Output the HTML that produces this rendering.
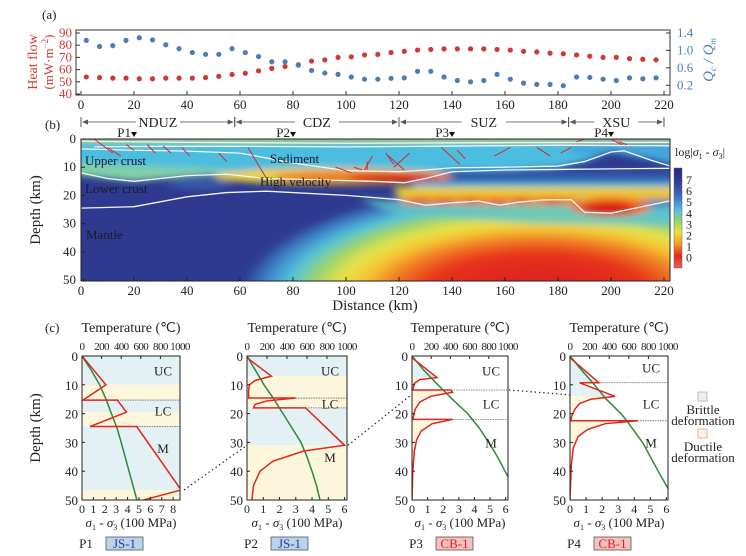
<!DOCTYPE html>
<html><head><meta charset="utf-8"><style>
body{margin:0;background:#fff}
svg{display:block;font-family:"Liberation Serif",serif}
</style></head><body>
<svg id="fig" width="746" height="556" viewBox="0 0 746 556" xmlns="http://www.w3.org/2000/svg" font-family="Liberation Serif, serif">
<defs>
<filter id="blur" x="-20%" y="-50%" width="140%" height="200%"><feGaussianBlur stdDeviation="1.6 1.2"/></filter>
<radialGradient id="hot" cx="0.5" cy="0.5" r="0.5">
<stop offset="0" stop-color="#d81c1c"/><stop offset="0.38" stop-color="#e6321c"/><stop offset="0.5" stop-color="#f07a22"/>
<stop offset="0.6" stop-color="#f5c634"/><stop offset="0.68" stop-color="#e4e44a"/><stop offset="0.76" stop-color="#9fd36a"/>
<stop offset="0.84" stop-color="#56c6d6"/><stop offset="0.92" stop-color="#3d86cc"/><stop offset="1" stop-color="#2e3a8f"/>
</radialGradient>
<linearGradient id="cbar" x1="0" y1="0" x2="0" y2="1">
<stop offset="0" stop-color="#28287e"/><stop offset="0.14" stop-color="#2f3c99"/><stop offset="0.28" stop-color="#3b6cc4"/>
<stop offset="0.42" stop-color="#58bce0"/><stop offset="0.52" stop-color="#8ed27a"/><stop offset="0.64" stop-color="#ece23c"/>
<stop offset="0.76" stop-color="#f39a22"/><stop offset="0.88" stop-color="#e2261c"/><stop offset="1" stop-color="#e86060"/>
</linearGradient>
<clipPath id="bclip"><rect x="81" y="139" width="589" height="142"/></clipPath>
</defs>
<g id="pa"></g>
<g id="pb"></g>
<g id="pc"></g>
</svg>
<script>
// ---------- Panel (a) data ----------
const distA=[2,7,12,17,22,27,32,37,42,47,52,57,62,67,72,77,82,87,92,97,102,107,112,117,122,127,132,137,142,147,152,157,162,167,172,177,182,187,192,197,202,207,212,217];
const heatFlow=[54,53.5,53,53,52.5,52.5,53,53,53,53.5,54.5,56,57,59,61,62.5,64,67,68,70,70.5,72,72.5,74,75,76,76.5,77,77,77,77,76.5,76,75,74.5,73.5,73,72,71,70,70,69,68.5,68];
const qRatio=[1.23,1.09,1.11,1.23,1.29,1.24,1.13,1.04,0.95,0.91,0.91,1.04,0.95,0.86,0.74,0.74,0.66,0.54,0.48,0.45,0.39,0.34,0.34,0.36,0.37,0.52,0.52,0.39,0.31,0.28,0.31,0.45,0.34,0.25,0.22,0.22,0.19,0.39,0.38,0.34,0.31,0.37,0.35,0.37];
const distTicks=[0,20,40,60,80,100,120,140,160,180,200,220];
const hfTicks=[40,50,60,70,80,90];
const qTicks=[0.2,0.6,1.0,1.4];
// ---------- Panel (b) data ----------
const zoneNames=["NDUZ","CDZ","SUZ","XSU"];
const zoneBounds=[0,58,120,184,220];
const profileNames=["P1","P2","P3","P4"];
const profileKm=[20,80,140,200];
const depthTicks=[0,10,20,30,40,50];
const cbarTicks=[7,6,5,4,3,2,1,0];
// ---------- Panel (c) data ----------
const p1Stress=[[0,0],[2.1,10],[0.1,15.3],[3.1,15.3],[3.9,19.5],[0.7,24.5],[4.8,24.5],[8.7,46.5],[5.4,50]];
const p2Stress=[[0,0.6],[1.5,7],[0.5,8.5],[0.15,10],[0.1,12],[0.1,14.6],[3.0,14.6],[1.2,15.6],[0.5,16.8],[0.4,18],[3.6,18],[6.0,31],[3.5,33],[1.6,36.5],[0.8,40],[0.4,45],[0.3,50]];
const p3Stress=[[0,0.6],[1.6,7.5],[0.5,8.2],[0.15,9.5],[0.05,11.8],[2.5,11.8],[2.6,12.6],[1.2,14],[0.5,16],[0.2,18.5],[0.05,22],[2.6,22],[1.3,23.5],[0.6,26],[0.3,29],[0.15,33],[0.05,40],[0,50]];
const p4Stress=[[0,0.6],[1.8,9.3],[0.6,9.3],[2.8,14],[1.3,15],[0.6,16.5],[0.3,18.5],[0.1,21],[0.05,22.5],[4.2,22.5],[2.2,23.5],[1.1,25.5],[0.5,28],[0.2,32],[0.08,38],[0,50]];
const p1Temp=[[0,0],[5,95],[10,180],[15,245],[20,300],[25,357],[30,400],[40,480],[50,560]];
const p2Temp=[[0,0],[5,85],[10,170],[15,270],[20,360],[25,450],[30,540],[35,600],[40,650],[45,695],[50,730]];
const p3Temp=[[0,0],[5,125],[10,270],[15,420],[20,580],[25,700],[30,800],[35,890],[42,1000]];
const p4Temp=[[0,0],[5,120],[10,250],[15,370],[20,520],[22.5,580],[30,740],[40,900],[46,1000]];
const p1Bands=[[0,10,"b"],[10,15.3,"y"],[15.3,19.5,"b"],[19.5,24.5,"y"],[24.5,46.5,"b"],[46.5,50,"y"]];
const p2Bands=[[0,7,"b"],[7,18,"y"],[18,31,"b"],[31,50,"y"]];
const p3Bands=[[0,7.5,"b"],[7.5,50,"y"]];
const p4Bands=[[0,14,"b"],[14,50,"y"]];
const p1Dash=[15.3,24.5];const p2Dash=[14.6,18];const p3Dash=[11.8,22];const p4Dash=[9.3,22.5];
const stressTicks6=[0,1,2,3,4,5,6];const stressTicks8=[0,1,2,3,4,5,6,7,8];
const tempTicks=[0,200,400,600,800,1000];

const NS="http://www.w3.org/2000/svg";
function mk(parent,tag,attrs,text){const e=document.createElementNS(NS,tag);for(const k in attrs)e.setAttribute(k,attrs[k]);if(text!==undefined)e.textContent=text;parent.appendChild(e);return e;}

// ===== Panel (a) =====
const pa=document.getElementById('pa');
const XA=km=>81+km*2.65;
const YH=h=>94-(h-40)*1.22;
const YQ=q=>94-q*43.6;
let t=mk(pa,'text',{x:42,y:19,'font-size':13,fill:'#222'},'(a)');

let r=mk(pa,'rect',{x:76,y:30,width:594,height:65,fill:'none',stroke:'#333','stroke-width':1});

distTicks.forEach(v=>{
  mk(pa,'line',{x1:XA(v),x2:XA(v),y1:95,y2:91,stroke:'#333'});
  const l=mk(pa,'text',{x:XA(v),y:109,'font-size':13,'text-anchor':'middle',fill:'#222'},v);
  
});
hfTicks.forEach(v=>{
  mk(pa,'line',{x1:76,x2:80,y1:YH(v),y2:YH(v),stroke:'#333'});
  const l=mk(pa,'text',{x:72,y:YH(v)+4,'font-size':13,'text-anchor':'end',fill:'#d0392f'},v);
  
});
qTicks.forEach(v=>{
  mk(pa,'line',{x1:670,x2:666,y1:YQ(v),y2:YQ(v),stroke:'#333'});
  const l=mk(pa,'text',{x:677,y:YQ(v)+4,'font-size':13,fill:'#4a7fb5'},v.toFixed(1));
  
});
t=mk(pa,'text',{transform:'translate(37,62) rotate(-90)','font-size':14,'text-anchor':'middle',fill:'#d0392f'},'Heat flow');

t=mk(pa,'text',{transform:'translate(53,62) rotate(-90)','font-size':13,'text-anchor':'middle',fill:'#d0392f'});
t.innerHTML='(mW·m<tspan dy="-5" font-size="9">−2</tspan><tspan dy="5">)</tspan>';

t=mk(pa,'text',{transform:'translate(713,60) rotate(-90)','font-size':15,'text-anchor':'middle',fill:'#4a7fb5','font-style':'italic'});
t.innerHTML='Q<tspan dy="3" font-size="9">c</tspan><tspan dy="-3"> / Q</tspan><tspan dy="3" font-size="9">m</tspan>';

distA.forEach((d,i)=>{
  const c=mk(pa,'circle',{cx:XA(d),cy:YH(heatFlow[i]),r:2.6,fill:'#d0392f'});
  
  const c2=mk(pa,'circle',{cx:XA(d),cy:YQ(qRatio[i]),r:2.6,fill:'#4a7fb5'});
  
});

// ===== Panel (b) =====
const pb=document.getElementById('pb');
const XB=km=>81+km*2.65;
const YB=d=>139+d*2.82;
t=mk(pb,'text',{x:45,y:129,'font-size':13,fill:'#222'},'(b)');

for(let i=0;i<zoneNames.length;i++){
  const a=XB(zoneBounds[i]),b=XB(zoneBounds[i+1]),m=(a+b)/2;
  mk(pb,'line',{x1:a+2,x2:b-2,y1:122,y2:122,stroke:'#777','stroke-width':1});
  mk(pb,'line',{x1:a,x2:a,y1:117,y2:127,stroke:'#555'});
  mk(pb,'line',{x1:b,x2:b,y1:117,y2:127,stroke:'#555'});
  mk(pb,'path',{d:`M${a+1},122 l6,-2.5 v5z`,fill:'#555'});
  mk(pb,'path',{d:`M${b-1},122 l-6,-2.5 v5z`,fill:'#555'});
  mk(pb,'rect',{x:m-22,y:115,width:44,height:14,fill:'#fff'});
  const z=mk(pb,'text',{x:m,y:127,'font-size':14,'text-anchor':'middle',fill:'#222'},zoneNames[i]);
  
}
profileKm.forEach((k,i)=>{
  const p=mk(pb,'text',{x:XB(k)-3,y:137,'font-size':13,'text-anchor':'end',fill:'#222'},profileNames[i]);
  
  const tr=mk(pb,'path',{d:`M${XB(k)-3},132 h6 l-3,5z`,fill:'#111'});
  
});
const hm=mk(pb,'g',{'clip-path':'url(#bclip)'});

const hg=mk(hm,'g',{transform:'translate(81,139) scale(2.65,2.82)'});
mk(hg,'rect',{x:-5,y:-5,width:235,height:60,fill:'#2e3a8f'});
const blurG=mk(hg,'g',{filter:'url(#blur)'});
mk(blurG,'ellipse',{cx:172,cy:56,rx:112,ry:40,fill:'url(#hot)'});
mk(blurG,'path',{d:'M105,21 L135,23 L160,24 L185,24 L200,27 L225,23 L225,31 L170,30 L120,27 Z',fill:'#5fc4c8',opacity:0.8});
mk(blurG,'path',{d:'M-5,0 L230,0 L230,10 L200,4.5 L190,8 L180,10 L160,11 L140,11.5 L130,14 L110,15 L90,14.5 L70,14 L55,12.5 L40,13 L20,15 L10,14 L-5,12 Z',fill:'#4cbde0'});
mk(blurG,'path',{d:'M-5,8 L20,9.5 L40,10 L55,11 L55,12.5 L40,13.5 L20,15 L10,14 L-5,12.5Z',fill:'#8fd49a',opacity:0.8});
mk(blurG,'path',{d:'M185,0 L230,0 L230,9 L215,7 L205,4 L195,6 L185,5Z',fill:'#3e9ad8',opacity:0.7});
mk(blurG,'rect',{x:-5,y:-1,width:235,height:2,fill:'#c0da48'});
mk(blurG,'rect',{x:135,y:11,width:95,height:4,fill:'#3252a8'});
mk(blurG,'rect',{x:125,y:15,width:105,height:2.5,fill:'#46a6d8'});
mk(blurG,'path',{d:'M118,17 L230,17 L230,21.5 L120,21.5 Z',fill:'#e6d640'});
mk(blurG,'rect',{x:120,y:19,width:110,height:2,fill:'#f2b432'});
mk(blurG,'rect',{x:122,y:21,width:65,height:2.3,fill:'#ef7a22'});
[[128,22],[137,22.3],[147,22],[157,22.6],[166,22],[178,22.3]].forEach(s=>mk(blurG,'ellipse',{cx:s[0],cy:s[1],rx:3,ry:0.9,fill:'#dc2a1c'}));
mk(blurG,'ellipse',{cx:200,cy:24,rx:15,ry:3.2,fill:'#ef6a22'});
mk(blurG,'ellipse',{cx:199,cy:24.8,rx:10,ry:2.2,fill:'#d41818'});
// red band at 11-15
mk(blurG,'ellipse',{cx:95,cy:13.2,rx:45,ry:2.9,fill:'#eed23a'});
mk(blurG,'ellipse',{cx:106,cy:13.4,rx:34,ry:2.1,fill:'#f07a20'});
mk(blurG,'ellipse',{cx:118,cy:13.7,rx:17,ry:1.7,fill:'#dc2418'});
mk(blurG,'ellipse',{cx:45,cy:16,rx:12,ry:2,fill:'#3c64b4',opacity:0.7});
const wl=(pts)=>{const pl=mk(hg,'polyline',{points:pts.map(p=>p.join(',')).join(' '),fill:'none',stroke:'#f4f4f4','stroke-width':1.3,'vector-effect':'non-scaling-stroke'});};
wl([[0,0.8],[40,1.2],[100,1.5],[160,1.3],[222,1.2]]);
wl([[5,2.8],[30,2.6],[60,2.6],[100,2.8],[140,2.5],[180,2.2],[222,2.4]]);
wl([[0,3.5],[20,4],[40,4.3],[60,5],[80,8.5],[100,11.2],[120,11.6],[130,11],[140,10.2],[160,10],[180,9.6],[190,8],[200,4.6],[205,4.2],[215,7.5],[222,9.5]]);
wl([[0,12],[10,14],[20,15],[40,13],[55,12.5],[70,14],[90,14.5],[110,15],[122,15.5],[130,14],[140,11.6],[160,11],[180,10.8],[200,10.6],[222,10.4]]);
wl([[0,24.5],[20,24],[40,20.5],[55,19],[70,18.5],[100,20],[120,21.5],[130,23.5],[140,22.6],[150,22],[158,23.5],[165,22.4],[175,21.6],[185,21.5],[190,26],[200,26.3],[222,22]]);
const faults=[[5,0,12,5],[10,3,15,6],[17,2,20,4],[25,2,28,5],[31,2.5,34,5],[38,3,41,6],[52,5,55,8],[63,3,70,14],[96,10,102,12],[103,10,106,11],[108,8,108,11],[110,6,107,11],[115,5,118,9],[116,6,122,11],[124,5,118,10],[136,3,143,9],[142,4,145,7],[156,6,162,3],[172,3,177,6],[181,5,185,3],[187,1,190,0],[200,0,204,2],[203,1,206,2]];
faults.forEach(f=>{const l=mk(hg,'line',{x1:f[0],y1:f[1],x2:f[2],y2:f[3],stroke:'#d42a2a','stroke-width':1,'vector-effect':'non-scaling-stroke'});});
[["Upper crust",85,165],["Sediment",270,163],["High velocity",260,186],["Lower crust",85,193],["Mantle",86,239]].forEach(a=>{
  const l=mk(pb,'text',{x:a[1],y:a[2],'font-size':13,fill:'#1a1a2a'},a[0]);
  
});
mk(pb,'rect',{x:81,y:139,width:589,height:142,fill:'none',stroke:'#222','stroke-width':1});
distTicks.forEach(v=>{
  mk(pb,'line',{x1:XB(v),x2:XB(v),y1:281,y2:277,stroke:'#222'});
  const l=mk(pb,'text',{x:XB(v),y:295,'font-size':13,'text-anchor':'middle',fill:'#222'},v);
  
});
depthTicks.forEach(v=>{
  mk(pb,'line',{x1:81,x2:85,y1:YB(v),y2:YB(v),stroke:'#222'});
  const l=mk(pb,'text',{x:76,y:YB(v)+4,'font-size':13,'text-anchor':'end',fill:'#222'},v);
  
});
t=mk(pb,'text',{x:375,y:310,'font-size':15,'text-anchor':'middle',fill:'#222'},'Distance (km)');

t=mk(pb,'text',{transform:'translate(40,210) rotate(-90)','font-size':15,'text-anchor':'middle',fill:'#222'},'Depth (km)');

r=mk(pb,'rect',{x:674,y:168,width:8,height:100,fill:'url(#cbar)',stroke:'#666','stroke-width':0.5});

cbarTicks.forEach((v,i)=>{
  const y=180+i*11.1;
  const l=mk(pb,'text',{x:686,y:y+4,'font-size':12,fill:'#222'},v);
  
});
t=mk(pb,'text',{x:675,y:156,'font-size':12,fill:'#222'});
t.innerHTML='log|<tspan font-style="italic">σ</tspan><tspan dy="3" font-size="8">1</tspan><tspan dy="-3"> - </tspan><tspan font-style="italic">σ</tspan><tspan dy="3" font-size="8">3</tspan><tspan dy="-3">|</tspan>';


// ===== Panel (c) =====
const pc=document.getElementById('pc');
t=mk(pc,'text',{x:45,y:332,'font-size':13,fill:'#222'},'(c)');

const Y0=356,Y1=500;
const YC=d=>Y0+d*(Y1-Y0)/50;
const subs=[
 {x0:82,x1:180,smax:8.6,stress:p1Stress,temp:p1Temp,bands:p1Bands,dash:p1Dash,ticks:stressTicks8,full:true,name:"P1",tag:"JS-1",blue:true},
 {x0:247,x1:347,smax:6.15,stress:p2Stress,temp:p2Temp,bands:p2Bands,dash:p2Dash,ticks:stressTicks6,full:true,name:"P2",tag:"JS-1",blue:true},
 {x0:412,x1:508,smax:6.15,stress:p3Stress,temp:p3Temp,bands:p3Bands,dash:p3Dash,ticks:stressTicks6,full:false,name:"P3",tag:"CB-1",blue:false},
 {x0:570,x1:668,smax:6.1,stress:p4Stress,temp:p4Temp,bands:p4Bands,dash:p4Dash,ticks:stressTicks6,full:false,name:"P4",tag:"CB-1",blue:false}];
subs.forEach((s,si)=>{
  const g=mk(pc,'g',{});
  
  const XS=v=>s.x0+v*(s.x1-s.x0)/s.smax;
  const XT=v=>s.x0+v*(s.x1-s.x0)/1000;
  const cid='cc'+si;
  const cp=mk(g,'clipPath',{id:cid});mk(cp,'rect',{x:s.x0,y:Y0,width:s.x1-s.x0,height:Y1-Y0});
  const curvePts=s.stress.map(p=>[XS(p[0]),YC(p[1])]);
  s.bands.forEach((b,bi)=>{
    const col=b[2]==='b'?'#e3f0f4':'#fcf7dc';
    if(s.full){
      const br=mk(g,'rect',{x:s.x0,y:YC(b[0]),width:s.x1-s.x0,height:YC(b[1])-YC(b[0]),fill:col});
      
    } else {
      const bc=mk(g,'clipPath',{id:cid+'b'+bi});mk(bc,'rect',{x:s.x0,y:YC(b[0]),width:s.x1-s.x0,height:YC(b[1])-YC(b[0])});
      const pts=[[s.x0,YC(0)],...curvePts,[s.x0,YC(50)]];
      const bp=mk(g,'polygon',{points:pts.map(p=>p.join(',')).join(' '),fill:col,'clip-path':`url(#${cid}b${bi})`});
      
    }
  });
  s.dash.forEach(d=>{
    let xmax=s.x0;s.stress.forEach(p=>{if(Math.abs(p[1]-d)<0.01)xmax=Math.max(xmax,XS(p[0]));});
    const dl=mk(g,'line',{x1:xmax,x2:s.x1,y1:YC(d),y2:YC(d),stroke:'#666','stroke-width':0.8,'stroke-dasharray':'1.5,1'});
    
  });
  const gl=mk(g,'polyline',{points:s.temp.map(p=>[XT(p[1]),YC(p[0])].join(',')).join(' '),fill:'none',stroke:'#2a8a3a','stroke-width':1.5,'clip-path':`url(#${cid})`});
  
  const rl=mk(g,'polyline',{points:curvePts.map(p=>p.join(',')).join(' '),fill:'none',stroke:'#e0261e','stroke-width':1.5,'clip-path':`url(#${cid})`});
  
  mk(g,'rect',{x:s.x0,y:Y0,width:s.x1-s.x0,height:Y1-Y0,fill:'none',stroke:'#222','stroke-width':1});
  [["UC",YC(s.name==="P4"?4:5)],["LC",YC(s.name==="P1"?19:16.5)],["M",YC(s.name==="P1"?32:s.name==="P2"?35:30)]].forEach(a=>{
    const l=mk(g,'text',{x:s.x1-17,y:a[1]+5,'font-size':13,'text-anchor':'middle',fill:'#222'},a[0]);
    
  });
  depthTicks.forEach(v=>{
    mk(g,'line',{x1:s.x0,x2:s.x0+3,y1:YC(v),y2:YC(v),stroke:'#222'});
    const l=mk(g,'text',{x:s.x0-4,y:YC(v)+5,'font-size':13,'text-anchor':'end',fill:'#222'},v);
    
  });
  s.ticks.forEach(v=>{
    mk(g,'line',{x1:XS(v),x2:XS(v),y1:Y1,y2:Y1-3,stroke:'#222'});
    const l=mk(g,'text',{x:XS(v),y:Y1+13,'font-size':12,'text-anchor':'middle',fill:'#222'},v);
    
  });
  tempTicks.forEach(v=>{
    mk(g,'line',{x1:XT(v),x2:XT(v),y1:Y0,y2:Y0+3,stroke:'#222'});
    const l=mk(g,'text',{x:XT(v),y:Y0-6,'font-size':11,'text-anchor':'middle',fill:'#222','letter-spacing':'-0.6'},v);
    
  });
  const xc=(s.x0+s.x1)/2;
  const tt=mk(g,'text',{x:xc,y:332,'font-size':14,'text-anchor':'middle',fill:'#222'},'Temperature (℃)');
  
  const st=mk(g,'text',{x:xc,y:527,'font-size':13,'text-anchor':'middle',fill:'#222'});
  st.innerHTML='<tspan font-style="italic">σ</tspan><tspan dy="3" font-size="8">1</tspan><tspan dy="-3"> - </tspan><tspan font-style="italic">σ</tspan><tspan dy="3" font-size="8">3</tspan><tspan dy="-3"> (100 MPa)</tspan>';
  
  const pn=mk(g,'text',{x:s.x0+4,y:548,'font-size':13,'text-anchor':'middle',fill:'#222'},s.name);
  
  const tb=mk(g,'rect',{x:s.x0+24,y:537,width:37,height:13,fill:s.blue?'#b8d4ec':'#f4c0c0',stroke:'#555','stroke-width':0.8});
  
  const tx=mk(g,'text',{x:s.x0+42.5,y:548,'font-size':13,'text-anchor':'middle',fill:s.blue?'#2a3a8a':'#e02020'},s.tag);
  
});
t=mk(pc,'text',{transform:'translate(40,428) rotate(-90)','font-size':15,'text-anchor':'middle',fill:'#222'},'Depth (km)');

[[184,YC(46.5),247,YC(31)],[348,YC(31),412,YC(13.3)],[509,YC(11.8),570,YC(13.5)]].forEach(c=>{
  const l=mk(pc,'line',{x1:c[0],y1:c[1],x2:c[2],y2:c[3],stroke:'#222','stroke-width':1.3,'stroke-dasharray':'1.3,3'});
  
});
[[392,'#e3f0f4','Brittle'],[429,'#fcf7dc','Ductile']].forEach(a=>{
  const sq=mk(pc,'rect',{x:698,y:a[0],width:9,height:9,fill:a[1],stroke:'#e0a0a0','stroke-width':0.8});
  
  const l1=mk(pc,'text',{x:703,y:a[0]+22,'font-size':13,'text-anchor':'middle',fill:'#222'},a[2]);
  
  const l2=mk(pc,'text',{x:703,y:a[0]+33,'font-size':13,'text-anchor':'middle',fill:'#222'},'deformation');
  
});
</script>
</body></html>
